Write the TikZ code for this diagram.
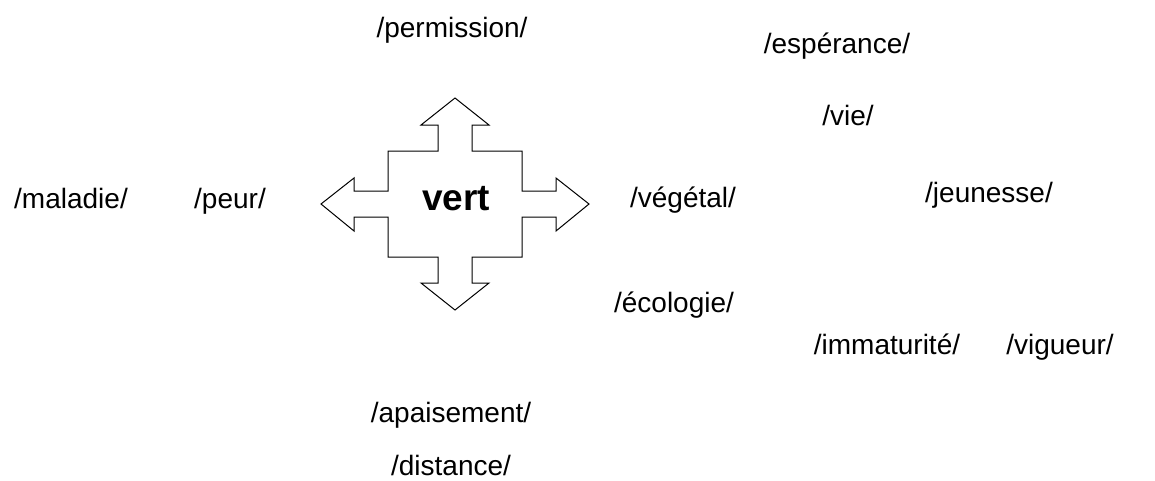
\documentclass[tikz,border=0pt]{standalone}
\usepackage{fontspec}
\setmainfont{Liberation Sans}
\begin{document}
\begin{tikzpicture}[x=1pt,y=-1pt,
  word/.style={anchor=base,inner sep=0pt,font=\fontsize{28}{33}\selectfont},
  centerword/.style={anchor=base,inner sep=0pt,font=\fontsize{37}{43}\selectfont\bfseries},
  arrowshape/.style={draw=black,line width=1pt,line join=miter,fill=white}]
\useasboundingbox (0,0) rectangle (1155,480);
\draw[arrowshape] (455,98) -- (489,125) -- (472,125) -- (472,151) -- (522,151) -- (522,191)
  -- (556,191) -- (556,178) -- (589,204) -- (556,231) -- (556,217) -- (522,217)
  -- (522,257) -- (472,257) -- (472,283) -- (489,283) -- (455,310) -- (421,283)
  -- (438,283) -- (438,257) -- (388,257) -- (388,217) -- (354,217) -- (354,231)
  -- (321,204) -- (354,178) -- (354,191) -- (388,191) -- (388,151) -- (438,151)
  -- (438,125) -- (421,125) -- cycle;
\node[centerword] (vert) at (456,210) {vert};
\node[word] (permission) at (452,37) {/permission/};
\node[word] (esperance) at (837,53) {/espérance/};
\node[word] (vie) at (848,125) {/vie/};
\node[word] (maladie) at (71,208) {/maladie/};
\node[word] (peur) at (230,208) {/peur/};
\node[word] (vegetal) at (683,207) {/végétal/};
\node[word] (jeunesse) at (989,202) {/jeunesse/};
\node[word] (ecologie) at (674,312) {/écologie/};
\node[word] (immaturite) at (887,354) {/immaturité/};
\node[word] (vigueur) at (1060,354) {/vigueur/};
\node[word] (apaisement) at (451,422) {/apaisement/};
\node[word] (distance) at (451,475) {/distance/};
\end{tikzpicture}
\end{document}
